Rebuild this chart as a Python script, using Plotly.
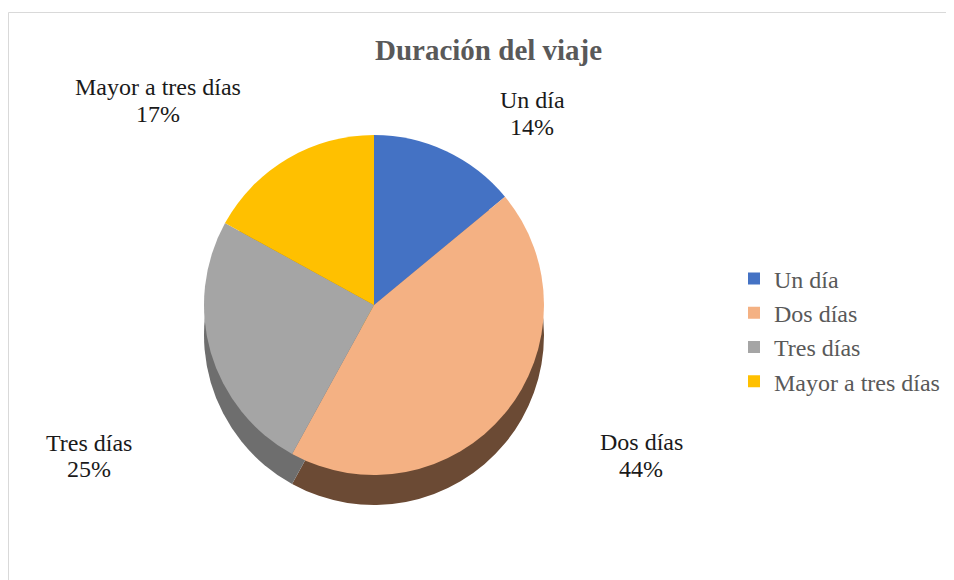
import plotly.graph_objects as go

categories = ["Un día", "Dos días", "Tres días", "Mayor a tres días"]
values = [14, 44, 25, 17]
top_colors = ["#4472C4", "#F4B183", "#A5A5A5", "#FFC000"]
side_colors = ["#2F5597", "#6B4A34", "#6E6E6E", "#B38600"]

# page body has an 8px margin; figure sized to fill the rest of the window
W, H = 946, 572
OFF = 8

def px_x(v):
    return (v - OFF) / W

def px_y(v):
    return 1 - (v - OFF) / H

fig = go.Figure()

# side (depth) of the pie: same data, darker, shifted down
fig.add_trace(go.Pie(
    labels=categories, values=values, sort=False, direction="clockwise", rotation=0,
    marker=dict(colors=side_colors, line=dict(width=0)),
    textinfo="none", hoverinfo="skip", showlegend=False,
    domain=dict(x=[px_x(139), px_x(609)], y=[px_y(505), px_y(165)]),
))

# top face
fig.add_trace(go.Pie(
    labels=categories, values=values, sort=False, direction="clockwise", rotation=0,
    marker=dict(colors=top_colors, line=dict(width=0)),
    textinfo="none",
    hovertemplate="%{label}: %{percent:.0%}<extra></extra>",
    domain=dict(x=[px_x(139), px_x(609)], y=[px_y(475), px_y(135)]),
))

# data labels (text built from the data): category line and percent line
total = sum(values)
label_pos = [(532, 100), (641, 442), (89, 443), (158, 87)]
LINE_GAP = 26.5
lab_font = dict(family="Liberation Serif", size=24, color="#1a1a1a")
for cat, val, (lx, ly) in zip(categories, values, label_pos):
    fig.add_annotation(
        text=cat, xref="paper", yref="paper",
        x=px_x(lx), y=px_y(ly), xanchor="center", yanchor="middle", showarrow=False,
        font=lab_font,
    )
    fig.add_annotation(
        text=f"{round(val / total * 100)}%", xref="paper", yref="paper",
        x=px_x(lx), y=px_y(ly + LINE_GAP), xanchor="center", yanchor="middle", showarrow=False,
        font=lab_font,
    )

fig.add_annotation(
    text="<b>Duración del viaje</b>", xref="paper", yref="paper",
    x=px_x(488), y=px_y(50), xanchor="center", yanchor="middle", showarrow=False,
    font=dict(family="Liberation Serif", size=29, color="#595959"),
)

fig.add_shape(type="rect", xref="paper", yref="paper",
              x0=px_x(8.5), x1=1.02, y0=-0.02, y1=px_y(12.5),
              line=dict(color="#D9D9D9", width=1), fillcolor="rgba(0,0,0,0)", layer="below")

fig.update_layout(
    width=W, height=H,
    margin=dict(l=0, r=0, t=0, b=0),
    paper_bgcolor="white", plot_bgcolor="white",
    showlegend=True,
    legend=dict(x=px_x(734), y=px_y(330), xanchor="left", yanchor="middle",
                itemwidth=30, traceorder="grouped", tracegroupgap=8,
                font=dict(family="Liberation Serif", size=24, color="#595959"),
                bgcolor="rgba(0,0,0,0)"),
)

fig.write_html("out.html")
